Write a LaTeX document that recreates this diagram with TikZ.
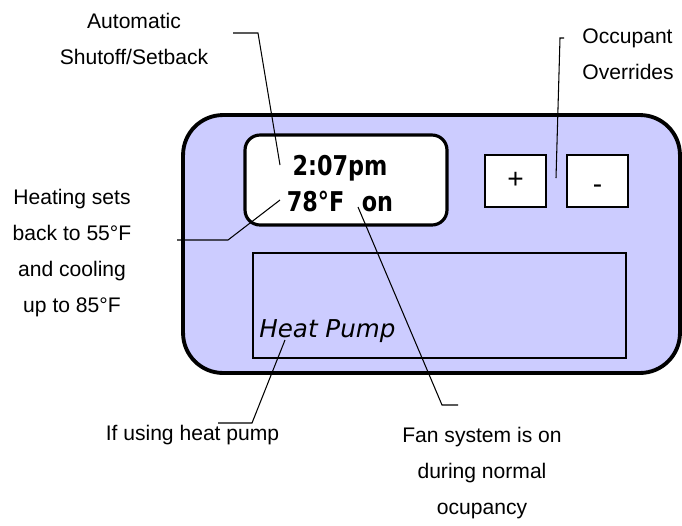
\documentclass[tikz,border=0pt]{standalone}
\usepackage{fontspec}
\setmainfont{Liberation Sans}
\newfontfamily\lcdfont[FakeStretch=0.82]{DejaVu Sans}
\newfontfamily\pumpfont{DejaVu Sans}
\usetikzlibrary{positioning}
\definecolor{lila}{HTML}{CCCCFF}

\begin{document}
\begin{tikzpicture}[x=0.02cm,y=-0.02cm,
        lbl/.style={align=center,font=\fontsize{12}{20.5}\selectfont,inner sep=0pt},
        tecla/.style={draw,line width=1.1pt,fill=white,minimum width=1.22cm,minimum height=1.04cm,inner sep=0pt,
          text height=8pt,text depth=0pt,font=\fontsize{16}{16}\selectfont},
        ln/.style={line width=0.6pt}]
        \useasboundingbox (0,0) rectangle (682,525);
        % thermostat body
        \node[draw,line width=2.2pt,fill=lila,rounded corners=0.8cm,minimum width=9.94cm,minimum height=5.16cm] (body) at (431.5,244) {};
        \node[draw,line width=1.8pt,fill=white,rounded corners=0.3cm,minimum width=4.04cm,minimum height=1.8cm] (lcd) at (346,180) {};
        \node[align=center,inner sep=0pt,font=\lcdfont\bfseries\fontsize{15.5}{20.5}\selectfont] (hora) at (340,184) {2:07pm\\78°F\hspace{0.35cm}on};
        \node[tecla] (mas) at (515.5,181) {+};
        \node[tecla] (menos) at (597.5,181) {\raisebox{-3pt}{-}};
        \node[draw,line width=1pt,minimum width=7.46cm,minimum height=2.1cm] (panel) at (439.5,305.5) {};
        \node[anchor=west,inner sep=0pt,font=\pumpfont\itshape\fontsize{14}{14}\selectfont] (hp) at (259,331) {Heat Pump};
        % labels
        \node[lbl] (auto) at (134,39) {Automatic\\Shutoff/Setback};
        \node[lbl,align=left,anchor=west] (occ) at (582,54) {Occupant\\Overrides};
        \node[lbl] (heat) at (72,253) {Heating sets\\back to 55°F\\and cooling\\up to 85°F};
        \node[lbl] (usehp) at (192.5,435) {If using heat pump};
        \node[lbl] (fan) at (482,473) {Fan system is on\\during normal\\ocupancy};
        % connectors
        \coordinate (a1) at (233,33); \coordinate (a2) at (280,165);
        \coordinate (o1) at (564,38); \coordinate (o2) at (556,178);
        \coordinate (h1) at (177,240); \coordinate (h2) at (280,200);
        \coordinate (p1) at (218,423); \coordinate (p2) at (285,340);
        \coordinate (f1) at (458,405); \coordinate (f2) at (358,207);
        \draw[ln] (a1) -- ++(25,0) -- (a2);
        \draw[ln] (o1) -- ++(-4,0) -- (o2);
        \draw[ln] (h1) -- ++(51,0) -- (h2);
        \draw[ln] (p1) -- ++(34,0) -- (p2);
        \draw[ln] (f1) -- ++(-16,0) -- (f2);
      \end{tikzpicture}
\end{document}
